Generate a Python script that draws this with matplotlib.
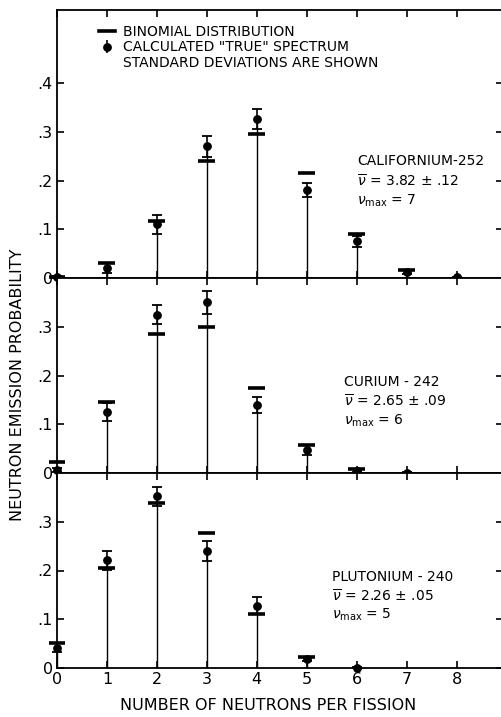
import matplotlib.pyplot as plt
from matplotlib.lines import Line2D
from matplotlib.patches import Patch

# Californium-252
cf_n = [0, 1, 2, 3, 4, 5, 6, 7, 8]
cf_calc = [0.002, 0.020, 0.110, 0.270, 0.326, 0.181, 0.075, 0.012, 0.002]
cf_err = [0.002, 0.010, 0.020, 0.021, 0.020, 0.014, 0.012, 0.004, 0.001]
cf_binom_n = [0, 1, 2, 3, 4, 5, 6, 7]
cf_binom = [0.002, 0.031, 0.117, 0.241, 0.295, 0.216, 0.090, 0.016]

# Curium-242
cm_n = [0, 1, 2, 3, 4, 5, 6, 7]
cm_calc = [0.006, 0.125, 0.325, 0.350, 0.139, 0.047, 0.005, 0.001]
cm_err = [0.004, 0.018, 0.020, 0.024, 0.016, 0.010, 0.003, 0.001]
cm_binom_n = [0, 1, 2, 3, 4, 5, 6]
cm_binom = [0.022, 0.146, 0.286, 0.300, 0.175, 0.058, 0.009]

# Plutonium-240
pu_n = [0, 1, 2, 3, 4, 5, 6]
pu_calc = [0.042, 0.221, 0.352, 0.240, 0.128, 0.019, 0.001]
pu_err = [0.010, 0.019, 0.019, 0.021, 0.017, 0.004, 0.001]
pu_binom_n = [0, 1, 2, 3, 4, 5]
pu_binom = [0.051, 0.206, 0.338, 0.276, 0.110, 0.022]

x_ticks = [0, 1, 2, 3, 4, 5, 6, 7, 8]
x_ticklabels = ['0', '1', '2', '3', '4', '5', '6', '7', '8']

W, H = 501, 717
fig = plt.figure(figsize=(W / 100, H / 100), dpi=100)


def px_axes(top, bottom):
    return [57 / W, 1 - bottom / H, (503 - 57) / W, (bottom - top) / H]


def panel(ax, n, calc, err, bn, binom, ymax, yt):
    ax.vlines(n, 0, calc, color='black', lw=1.0, clip_on=False, zorder=2)
    ax.errorbar(n, calc, yerr=err, fmt='o', color='black', ms=5.3,
                elinewidth=1.2, capsize=3.5, capthick=1.3, clip_on=False, zorder=3)
    ax.hlines(binom, [v - 0.17 for v in bn], [v + 0.17 for v in bn],
              color='black', lw=2.6, clip_on=False, zorder=4)
    ax.set_xlim(0, 8.93)
    ax.set_ylim(0, ymax)
    ax.set_xticks(x_ticks)
    ax.set_yticks(yt)
    ax.set_yticklabels(['0'] + ['.%d' % round(v * 10) for v in yt[1:]])
    ax.tick_params(direction='in', top=True, right=True, length=5, width=1.2,
                   labelsize=11.5, pad=3)
    for s in ax.spines.values():
        s.set_linewidth(1.3)


ax1 = fig.add_axes(px_axes(10, 278))
panel(ax1, cf_n, cf_calc, cf_err, cf_binom_n, cf_binom, 0.55, [0, .1, .2, .3, .4])
ax1.tick_params(labelbottom=False)

ax2 = fig.add_axes(px_axes(278, 473))
panel(ax2, cm_n, cm_calc, cm_err, cm_binom_n, cm_binom, 0.40, [0, .1, .2, .3])
ax2.tick_params(labelbottom=False)

ax3 = fig.add_axes(px_axes(473, 668))
panel(ax3, pu_n, pu_calc, pu_err, pu_binom_n, pu_binom, 0.40, [0, .1, .2, .3])
ax3.set_xticklabels(x_ticklabels)

# legend
h_binom = Line2D([], [], color='black', lw=2.6)
h_calc = ax1.errorbar([], [], yerr=[], fmt='o', color='black', ms=5.3,
                      elinewidth=1.2, capsize=3.5, capthick=1.3)
h_none = Patch(facecolor='none', edgecolor='none')
ax1.legend([h_binom, h_calc, h_none],
           ['BINOMIAL DISTRIBUTION', 'CALCULATED "TRUE" SPECTRUM',
            'STANDARD DEVIATIONS ARE SHOWN'],
           loc='upper left', bbox_to_anchor=(0.095, 0.945), frameon=False,
           fontsize=10, handlelength=1.1, handletextpad=0.6,
           labelspacing=0.12, borderpad=0, borderaxespad=0)

# isotope annotations
notes = [
    (357, [161, 181, 201], 'CALIFORNIUM-252', r'$\overline{\nu}$ = 3.82 ± .12', r'$\nu_{\rm max}$ = 7'),
    (344, [382, 401, 421], 'CURIUM - 242', r'$\overline{\nu}$ = 2.65 ± .09', r'$\nu_{\rm max}$ = 6'),
    (332, [577, 596, 615], 'PLUTONIUM - 240', r'$\overline{\nu}$ = 2.26 ± .05', r'$\nu_{\rm max}$ = 5'),
]
for x, ys, *lines in notes:
    for y, t in zip(ys, lines):
        fig.text(x / W, 1 - y / H, t, ha='left', va='center', fontsize=10)

fig.text(268 / W, 1 - 706 / H, 'NUMBER OF NEUTRONS PER FISSION',
         ha='center', va='center', fontsize=11.5)
fig.text(18 / W, 1 - 385 / H, 'NEUTRON EMISSION PROBABILITY',
         ha='center', va='center', rotation=90, fontsize=11.5)

fig.savefig('out.png', dpi=100)
